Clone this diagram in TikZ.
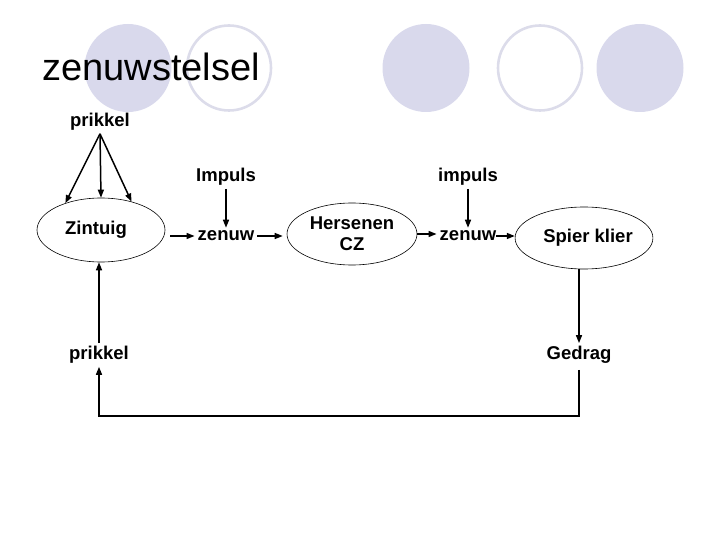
\documentclass[tikz,border=0pt]{standalone}
\usepackage{fontspec}
\setmainfont{Liberation Sans}
\usepackage{tikz}
\usetikzlibrary{arrows.meta,shapes.geometric}
\definecolor{lilac}{HTML}{D9D9EC}
\definecolor{lilacline}{HTML}{DCDCEA}
\tikzset{
  dot/.style={ellipse, fill=lilac, minimum width=87pt, minimum height=88pt, inner sep=0pt},
  ring/.style={ellipse, draw=lilacline, line width=2.6pt, minimum width=84pt, minimum height=85pt, inner sep=0pt},
  organ/.style={ellipse, draw=black, line width=0.6pt, align=center, inner sep=0pt,
                font=\fontsize{18.5}{21}\selectfont\bfseries},
  word/.style={inner sep=3pt, font=\fontsize{18.5}{21}\selectfont\bfseries},
  flow/.style={-{Triangle[length=8pt,width=6pt]}, draw=black, line width=1.5pt}
}
\begin{document}
\begin{tikzpicture}[x=1pt, y=-1pt]
 \useasboundingbox (0,0) rectangle (720,540);
 % decoration along the top
 \node[dot]  (d1) at (128,68) {};
 \node[ring] (r1) at (229,68) {};
 \node[dot]  (d2) at (426,68) {};
 \node[ring] (r2) at (540,68) {};
 \node[dot]  (d3) at (640,68) {};
 \node[anchor=base west, inner sep=0pt, font=\fontsize{38}{40}\selectfont] (title) at (42,81) {zenuwstelsel};
 % chain
 \node[word] (prik1) at (100,122) {prikkel};
 \node[organ, minimum width=128pt, minimum height=64pt] (zintuig) at (101,230) {Zintuig\hspace{10pt}};
 \node[word] (imp1) at (226,177) {Impuls};
 \node[word] (zen1) at (226,236) {zenuw};
 \node[organ, minimum width=130pt, minimum height=62pt] (hersenen) at (352,234) {Hersenen\\CZ};
 \node[word] (imp2) at (468,177) {impuls};
 \node[word] (zen2) at (468,236) {zenuw};
 \node[organ, minimum width=132pt, minimum height=62pt] (spier) at (584,238) {\hspace{8pt}Spier klier};
 \node[word] (gedrag) at (579,355) {Gedrag};
 \node[word] (prik2) at (99,355) {prikkel};
 \coordinate (loop) at (99,416);
 \draw[flow] (prik1.south) -- (zintuig.143);
 \draw[flow] (prik1.south) -- (zintuig.north);
 \draw[flow] (prik1.south) -- (zintuig.43);
 \draw[flow] (imp1) -- (zen1);
 \draw[flow] (imp2) -- (zen2);
 \draw[flow, shorten <=5pt] (zen1.west -| zintuig.east) -- (zen1.west);
 \draw[flow, shorten >=4pt] (zen1.east) -- (zen1.east -| hersenen.west);
 \draw[flow] (hersenen.east) -- (hersenen.east -| zen2.west);
 \draw[flow, shorten <=-3pt] (zen2.east) -- (zen2.east -| spier.west);
 \draw[flow] (spier.south -| gedrag.north) -- (gedrag.north);
 \draw[flow, shorten <=3pt] (gedrag.south) -- (gedrag.south |- loop) -- (loop) -- (prik2.south);
 \draw[flow] (prik2.north) -- (prik2.north |- zintuig.south);
\end{tikzpicture}
\end{document}
